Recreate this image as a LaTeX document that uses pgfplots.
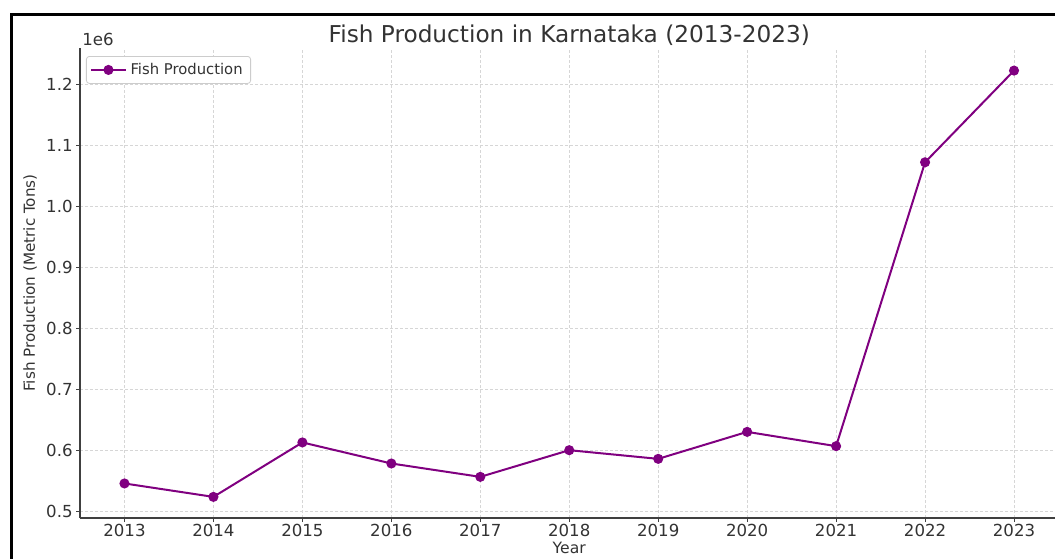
\documentclass[border=0pt]{standalone}
\usepackage{pgfplots}
\pgfplotsset{compat=1.18}
\usepackage{fontspec}
\setmainfont{DejaVu Sans}
\definecolor{fishpurple}{HTML}{800080}
\definecolor{txt}{HTML}{333333}
\begin{document}
\begin{tikzpicture}
\clip (0,0) rectangle (527.5pt,279pt);
\fill[white] (0,0) rectangle (527.5pt,279pt);
\begin{axis}[
  at={(40pt,20pt)}, anchor=south west,
  scale only axis,
  width=489.25pt, height=235pt,
  xmin=2012.5, xmax=2023.5,
  ymin=490000, ymax=1260000,
  axis x line*=bottom, axis y line*=left,
  axis line style={black!75, line width=0.6pt},
  xtick={2013,2014,2015,2016,2017,2018,2019,2020,2021,2022,2023},
  xticklabels={2013,2014,2015,2016,2017,2018,2019,2020,2021,2022,2023},
  ytick={500000,600000,700000,800000,900000,1000000,1100000,1200000},
  yticklabels={0.5,0.6,0.7,0.8,0.9,1.0,1.1,1.2},
  scaled y ticks=false,
  tick align=outside,
  major tick length=2pt,
  tick style={black!75, line width=0.5pt},
  xticklabel style={font=\fontsize{8.3}{10}\selectfont, text=txt, anchor=north, inner sep=0pt, yshift=-1pt},
  yticklabel style={font=\fontsize{8.3}{10}\selectfont, text=txt, anchor=east, inner sep=0pt, xshift=-1.5pt},
  grid=major,
  grid style={black!16, dash pattern=on 1.5pt off 1pt, line width=0.4pt},
  title={Fish Production in Karnataka (2013-2023)},
  title style={font=\fontsize{11.6}{14}\selectfont, text=txt, at={(axis description cs:0.5,1)}, anchor=base, yshift=-3pt, inner sep=0pt},
  xlabel={Year},
  xlabel style={font=\fontsize{7.8}{9}\selectfont, text=txt, at={(axis description cs:0.5,0)}, anchor=base, yshift=-17.5pt, inner sep=0pt},
  ylabel={Fish Production (Metric Tons)},
  ylabel style={font=\fontsize{7.6}{9}\selectfont, text=txt, at={(axis description cs:-0.0511,0.5)}, anchor=center, inner sep=0pt},
  legend style={at={(axis description cs:0,1)}, anchor=north west, xshift=3pt, yshift=-4pt,
    draw=black!20, rounded corners=1.5pt, font=\fontsize{7.4}{9}\selectfont, text=txt,
    inner xsep=2pt, inner ysep=1.2pt},
  legend cell align=left,
  clip=false,
]
\addplot[color=fishpurple, line width=1pt, mark=*, mark size=2pt, mark options={fill=fishpurple, draw=fishpurple}]
  coordinates {
  (2013,546600) (2014,524600) (2015,613800) (2016,579300) (2017,557400)
  (2018,601100) (2019,586900) (2020,631100) (2021,607700) (2022,1072800) (2023,1223000)
  };
\addlegendentry{Fish Production}
\node[font=\fontsize{8.3}{10}\selectfont, text=txt, anchor=base west, inner sep=0pt] at (axis description cs:0.002,1) [yshift=1.2pt] {1e6};
\end{axis}
\draw[black, line width=1.5pt] (5.5pt,-2pt) -- (5.5pt,271.5pt) -- (530pt,271.5pt);
\end{tikzpicture}
\end{document}
